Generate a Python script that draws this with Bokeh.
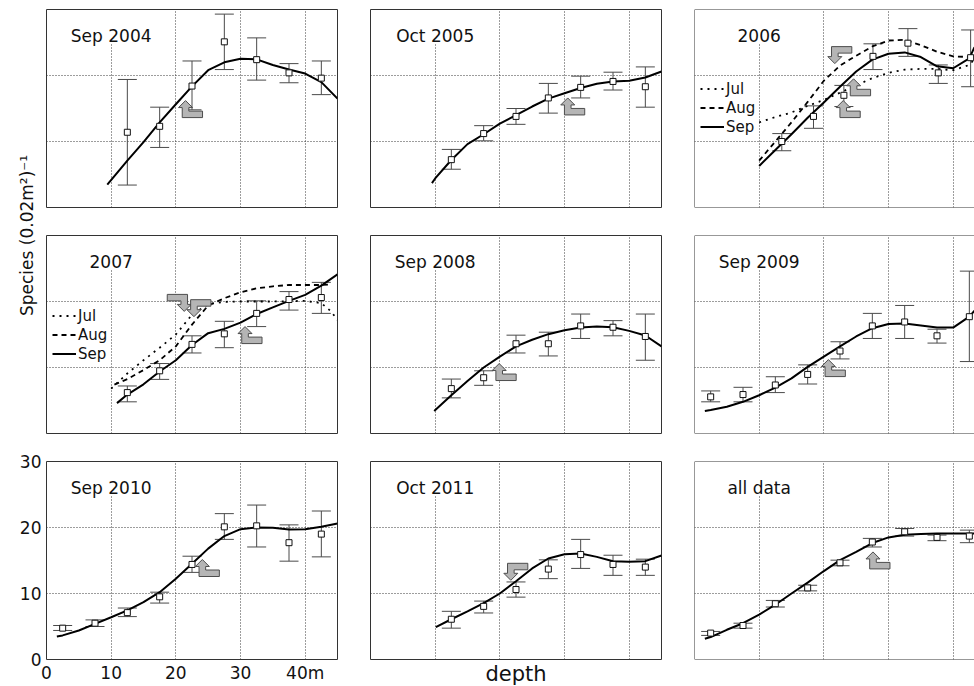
import math
from bokeh.plotting import figure
from bokeh.models import (Range1d, Label, Whisker, TeeHead, ColumnDataSource,
                          FixedTicker, Span, Grid)
from bokeh.layouts import row, column
from bokeh.embed import file_html
from bokeh.resources import INLINE

# ---------------- data ----------------
TITLES = ["Sep 2004", "Oct 2005", "2006", "2007", "Sep 2008", "Sep 2009",
          "Sep 2010", "Oct 2011", "all data"]
Y_LABEL = "Species (0.02m²)⁻¹"
X_LABEL = "depth"
X_TICKS = [0, 10, 20, 30, 40]
X_TICK_LABELS = ["0", "10", "20", "30", "40m"]
Y_TICKS = [0, 10, 20, 30]
MONTHS = ["Jul", "Aug", "Sep"]

DEPTH7 = [12.5, 17.5, 22.5, 27.5, 32.5, 37.5, 42.5]
DEPTH9 = [2.5, 7.5, 12.5, 17.5, 22.5, 27.5, 32.5, 37.5, 42.5]
DEPTH_2006 = [13.5, 18.4, 23.1, 27.6, 33.0, 37.7, 42.7]

# Sep 2004
s04_mean = [11.4, 12.3, 18.4, 25.1, 22.4, 20.4, 19.6]
s04_hi = [19.4, 15.2, 22.2, 29.3, 25.7, 21.8, 22.2]
s04_lo = [3.4, 9.1, 14.8, 20.9, 19.3, 18.9, 17.1]
s04_fit_x = [9.4, 12.5, 15, 17.5, 20, 22.5, 25, 27.5, 30, 32.5, 35, 37.5, 40, 42.5, 45]
s04_fit_y = [3.45, 7.1, 9.9, 12.9, 15.65, 18.35, 20.8, 22.0, 22.55, 22.45, 21.6, 20.9, 20.3, 19.0, 16.5]
s04_arrows = [(21.5, 16.2, "up_r")]

# Oct 2005
o05_mean = [7.25, 11.2, 13.8, 16.6, 18.2, 19.1, 18.3]
o05_hi = [8.8, 12.4, 15.0, 18.8, 19.9, 20.5, 21.3]
o05_lo = [5.8, 10.1, 12.6, 14.3, 16.6, 17.8, 15.2]
o05_fit_x = [9.5, 10, 12.5, 15, 17.5, 20, 22.5, 25, 27.5, 30, 32.5, 35, 37.5, 40, 42.5, 45]
o05_fit_y = [3.7, 4.4, 7.2, 9.6, 11.1, 12.7, 14.0, 15.3, 16.5, 17.3, 18.1, 18.75, 19.1, 19.2, 19.7, 20.6]
o05_arrows = [(30.5, 16.6, "up_r")]

# 2006
y06_mean = [10.0, 13.8, 17.0, 22.9, 24.9, 20.4, 22.7]
y06_hi = [11.2, 15.4, 18.5, 24.8, 27.1, 21.6, 26.9]
y06_lo = [8.6, 12.0, 15.3, 20.9, 22.9, 18.8, 18.3]
y06_jul_x = [10, 12.5, 15, 17.5, 20, 22.5, 25, 27.5, 30, 32.5, 35, 37.5, 40, 42.5, 43.3]
y06_jul_y = [12.9, 13.7, 14.4, 15.4, 16.3, 17.4, 18.5, 19.6, 20.4, 20.9, 21.0, 21.0, 20.8, 21.6, 22.5]
y06_aug_x = [10, 12.5, 15, 17.5, 20, 22.5, 25, 27.5, 30, 32.5, 35, 37.5, 40, 42.5, 43.3]
y06_aug_y = [7.1, 10.0, 12.9, 16.0, 19.2, 21.5, 23.0, 24.4, 25.3, 25.4, 24.6, 23.6, 22.9, 22.8, 23.2]
y06_sep_x = [10, 12.5, 15, 17.5, 20, 22.5, 25, 27.5, 30, 32.5, 35, 37.5, 40, 42.5, 43.3]
y06_sep_y = [6.3, 8.7, 11.1, 13.6, 15.9, 18.3, 20.6, 22.4, 23.3, 23.5, 22.8, 21.4, 21.1, 22.6, 24.3]
y06_arrows = [(21.7, 21.8, "down_r"), (24.6, 19.5, "up_r"), (23.0, 16.2, "up_r")]

# 2007
y07_mean = [6.2, 9.5, 13.5, 15.1, 18.2, 20.3, 20.6]
y07_hi = [7.2, 10.6, 14.8, 17.0, 20.1, 21.5, 22.9]
y07_lo = [4.8, 8.2, 12.2, 13.0, 16.2, 18.7, 18.2]
y07_jul_x = [10, 12.5, 15, 17.5, 20, 22.5, 25, 27.5, 30, 35, 40, 42.5, 44, 45]
y07_jul_y = [6.8, 9.1, 11.1, 13.0, 15.0, 18.0, 19.6, 19.95, 20.0, 20.0, 20.1, 19.75, 18.5, 17.2]
y07_aug_x = [10.5, 12.5, 15, 17.5, 20, 22.5, 25, 27.5, 30, 32.5, 35, 37.5, 40, 42.5, 44]
y07_aug_y = [7.4, 8.25, 9.6, 11.1, 13.2, 16.5, 19.4, 20.5, 21.4, 22.0, 22.3, 22.5, 22.5, 22.5, 22.6]
y07_sep_x = [10.9, 12.5, 15, 17.5, 20, 22.5, 25, 27.5, 30, 32.5, 35, 37.5, 40, 42.5, 45]
y07_sep_y = [4.6, 5.9, 7.45, 9.4, 11.1, 13.4, 15.2, 15.85, 16.8, 18.1, 19.1, 20.1, 21.0, 22.4, 24.1]
y07_arrows = [(21.3, 18.5, "down_l"), (22.8, 17.7, "down_r"), (30.7, 16.2, "up_r")]

# Sep 2008
s08_mean = [6.8, 8.45, 13.6, 13.6, 16.3, 16.1, 14.7]
s08_hi = [8.25, 9.5, 14.9, 15.35, 18.1, 17.1, 18.1]
s08_lo = [5.4, 7.3, 12.2, 11.75, 14.4, 14.8, 11.1]
s08_fit_x = [9.85, 12.5, 15, 17.5, 20, 22.5, 25, 27.5, 30, 32.5, 35, 37.5, 40, 42.5, 45]
s08_fit_y = [3.4, 5.8, 7.95, 10.0, 11.65, 13.2, 14.2, 15.05, 15.65, 16.05, 16.2, 16.1, 15.55, 14.85, 13.2]
s08_arrows = [(19.9, 10.6, "up_r")]

# Sep 2009
s09_mean = [5.55, 5.9, 7.35, 8.95, 12.5, 16.3, 16.9, 14.8, 17.7]
s09_hi = [6.45, 7.0, 8.6, 10.4, 13.9, 18.2, 19.4, 15.8, 24.6]
s09_lo = [4.8, 4.8, 6.2, 7.5, 11.3, 14.4, 14.4, 13.7, 10.9]
s09_fit_x = [1.6, 2.5, 5, 7.5, 10, 12.5, 15, 17.5, 20, 22.5, 25, 27.5, 30, 32.5, 35, 37.5, 40, 42.5, 43.3]
s09_fit_y = [3.4, 3.55, 4.05, 4.8, 5.8, 6.95, 8.35, 10.1, 11.65, 13.2, 14.7, 15.95, 16.6, 16.65, 16.35, 16.05, 16.05, 17.7, 18.6]
s09_arrows = [(20.7, 11.2, "up_r")]

# Sep 2010
s10_mean = [4.75, 5.5, 7.1, 9.5, 14.4, 20.1, 20.25, 17.7, 19.0]
s10_hi = [5.15, 6.0, 7.8, 10.2, 15.65, 22.1, 23.4, 20.4, 22.5]
s10_lo = [4.4, 5.0, 6.5, 8.55, 13.2, 18.2, 17.05, 14.9, 15.55]
s10_fit_x = [1.6, 2.5, 5, 7.5, 10, 12.5, 15, 17.5, 20, 22.5, 25, 27.5, 30, 32.5, 35, 37.5, 40, 42.5, 45]
s10_fit_y = [3.5, 3.65, 4.4, 5.4, 6.4, 7.45, 8.7, 10.2, 12.25, 14.5, 16.8, 18.7, 19.75, 20.0, 19.95, 19.7, 19.75, 20.1, 20.6]
s10_arrows = [(24.1, 15.15, "up_r")]

# Oct 2011
o11_mean = [6.1, 8.05, 10.6, 13.7, 15.9, 14.4, 14.0]
o11_hi = [7.3, 8.85, 11.75, 15.1, 18.2, 15.8, 15.2]
o11_lo = [4.75, 7.05, 9.45, 12.25, 13.8, 12.75, 12.75]
o11_fit_x = [10.1, 12.5, 15, 17.5, 20, 22.5, 25, 27.5, 30, 32.5, 35, 37.5, 40, 42.5, 45]
o11_fit_y = [4.9, 6.1, 7.3, 8.55, 10.0, 11.85, 13.8, 15.3, 15.95, 16.05, 15.55, 14.9, 14.8, 14.9, 15.75]
o11_arrows = [(21.7, 12.0, "down_r")]

# all data
all_mean = [4.0, 5.15, 8.45, 10.85, 14.65, 17.8, 19.35, 18.5, 18.7]
all_hi = [4.25, 5.5, 8.95, 11.25, 15.05, 18.35, 19.85, 18.85, 19.6]
all_lo = [3.65, 4.75, 7.95, 10.4, 14.2, 17.05, 18.7, 18.0, 17.7]
all_fit_x = [1.6, 2.5, 5, 7.5, 10, 12.5, 15, 17.5, 20, 22.5, 25, 27.5, 30, 32.5, 35, 37.5, 40, 43.3]
all_fit_y = [3.15, 3.4, 4.5, 5.5, 6.8, 8.3, 10.0, 11.65, 13.4, 15.05, 16.3, 17.65, 18.5, 18.9, 19.0, 19.1, 19.1, 19.1]
all_arrows = [(27.6, 16.3, "up_r")]

PANELS = [
    dict(depth=DEPTH7, mean=s04_mean, hi=s04_hi, lo=s04_lo, fits=[("Sep", s04_fit_x, s04_fit_y)], arrows=s04_arrows),
    dict(depth=DEPTH7, mean=o05_mean, hi=o05_hi, lo=o05_lo, fits=[("Sep", o05_fit_x, o05_fit_y)], arrows=o05_arrows),
    dict(depth=DEPTH_2006, mean=y06_mean, hi=y06_hi, lo=y06_lo,
         fits=[("Jul", y06_jul_x, y06_jul_y), ("Aug", y06_aug_x, y06_aug_y), ("Sep", y06_sep_x, y06_sep_y)],
         arrows=y06_arrows, legend=True),
    dict(depth=DEPTH7, mean=y07_mean, hi=y07_hi, lo=y07_lo,
         fits=[("Jul", y07_jul_x, y07_jul_y), ("Aug", y07_aug_x, y07_aug_y), ("Sep", y07_sep_x, y07_sep_y)],
         arrows=y07_arrows, legend=True),
    dict(depth=DEPTH7, mean=s08_mean, hi=s08_hi, lo=s08_lo, fits=[("Sep", s08_fit_x, s08_fit_y)], arrows=s08_arrows),
    dict(depth=DEPTH9, mean=s09_mean, hi=s09_hi, lo=s09_lo, fits=[("Sep", s09_fit_x, s09_fit_y)], arrows=s09_arrows),
    dict(depth=DEPTH9, mean=s10_mean, hi=s10_hi, lo=s10_lo, fits=[("Sep", s10_fit_x, s10_fit_y)], arrows=s10_arrows),
    dict(depth=DEPTH7, mean=o11_mean, hi=o11_hi, lo=o11_lo, fits=[("Sep", o11_fit_x, o11_fit_y)], arrows=o11_arrows),
    dict(depth=DEPTH9, mean=all_mean, hi=all_hi, lo=all_lo, fits=[("Sep", all_fit_x, all_fit_y)], arrows=all_arrows),
]

# ---------------- styles ----------------
FONT = "DejaVu Sans"
FRAME_W = 291
FRAME_H = 198
LAST_W = 280
EB_COLOR = "#4a4a4a"
GRID_COLOR = "#3a3a3a"
DASH = {"Jul": "2 5", "Aug": "5 4", "Sep": "solid"}
LEG_POS = {2: (6, 71), 3: (6, 70)}
# bent-arrow outline in pixels, tip at origin, y up
ARROW_PX = [(0, 0), (7, -7), (3.3, -7), (3.3, -10.5), (17, -10.5), (17, -17),
            (-3.3, -17), (-3.3, -7), (-7, -7)]


def arrow_poly(tx, ty, kind, sx, sy):
    fx = -1 if kind == "down_l" else 1
    fy = 1 if kind == "up_r" else -1
    xs = [tx + fx * dx / sx for dx, _ in ARROW_PX]
    ys = [ty + fy * dy / sy for _, dy in ARROW_PX]
    return xs, ys


def make_panel(r, c, idx):
    pan = PANELS[idx]
    fw = FRAME_W if c < 2 else LAST_W
    x_end = 45.0 * fw / FRAME_W
    left = {0: (46 if r == 2 else 0), 1: 17, 2: 17}[c]
    right = 0 if c == 2 else 16
    bottom = 27 if r == 2 else 19
    p = figure(frame_width=fw, frame_height=FRAME_H,
               x_range=Range1d(0, x_end), y_range=Range1d(0, 30),
               min_border_left=left, min_border_right=right,
               min_border_top=9, min_border_bottom=bottom,
               toolbar_location=None, output_backend="svg",
               x_axis_location="below" if (r == 2 and c < 2) else None,
               y_axis_location="left" if (r == 2 and c == 0) else None,
               outline_line_color="#333333" if c < 2 else None,
               outline_line_width=1)
    for g in p.grid:
        g.visible = False
    p.add_layout(Grid(dimension=0, ticker=FixedTicker(ticks=[10, 20, 30, 40]),
                      grid_line_color=GRID_COLOR, grid_line_dash="1 2", grid_line_width=1))
    p.add_layout(Grid(dimension=1, ticker=FixedTicker(ticks=[10, 20]),
                      grid_line_color=GRID_COLOR, grid_line_dash="1 2", grid_line_width=1))
    if c == 2:
        for loc, dim in [(0, "width"), (30, "width"), (0, "height")]:
            p.add_layout(Span(location=loc, dimension=dim, line_color="#333333", line_width=1))

    # white box behind the title, hiding the grid line
    p.quad(left=[9.2], right=[10.8], bottom=[24.8], top=[29.85],
           fill_color="white", line_color=None)

    src = ColumnDataSource(dict(base=pan["depth"], upper=pan["hi"], lower=pan["lo"]))
    p.add_layout(Whisker(source=src, base="base", upper="upper", lower="lower",
                         dimension="height", line_color=EB_COLOR, line_width=1,
                         upper_head=TeeHead(size=19, line_color=EB_COLOR, line_width=1),
                         lower_head=TeeHead(size=19, line_color=EB_COLOR, line_width=1)))

    for name, fx, fy in pan["fits"]:
        kw = {}
        if pan.get("legend"):
            kw["legend_label"] = name
        p.line(fx, fy, line_color="black", line_width=2 if name == "Sep" else 1.8,
               line_dash=DASH[name], **kw)

    p.scatter(pan["depth"], pan["mean"], marker="square", size=6,
              fill_color="white", line_color="#111111", line_width=1)

    sx = fw / x_end
    sy = FRAME_H / 30.0
    axs, ays = [], []
    for tx, ty, kind in pan["arrows"]:
        a, b = arrow_poly(tx, ty, kind, sx, sy)
        axs.append(a)
        ays.append(b)
    p.patches(axs, ays, fill_color="#b5b5b5", line_color="#4d4d4d", line_width=1)

    p.add_layout(Label(x=10, y=26.0, text=TITLES[idx], text_align="center",
                       text_baseline="alphabetic", text_font=FONT,
                       text_font_size="17px", text_color="#111111"))

    if pan.get("legend"):
        lg = p.legend[0]
        lg.location = LEG_POS[idx]
        lg.glyph_width = 24
        lg.glyph_height = 19
        lg.label_height = 19
        lg.label_standoff = 2
        lg.spacing = 0
        lg.padding = 0
        lg.margin = 0
        lg.label_text_font = FONT
        lg.label_text_font_size = "15px"
        lg.label_text_color = "#111111"
        lg.background_fill_alpha = 0
        lg.border_line_color = None

    if r == 2 and c == 0:
        p.xaxis.ticker = FixedTicker(ticks=X_TICKS)
        p.xaxis.major_label_overrides = {t: s for t, s in zip(X_TICKS, X_TICK_LABELS)}
        p.yaxis.ticker = FixedTicker(ticks=Y_TICKS)
        for ax in p.axis:
            ax.axis_line_color = None
            ax.major_tick_line_color = None
            ax.minor_tick_line_color = None
            ax.major_tick_in = 0
            ax.major_tick_out = 0
            ax.major_label_text_font = FONT
            ax.major_label_text_font_size = "17px"
            ax.major_label_text_color = "#111111"
        p.xaxis.major_label_standoff = 3
        p.yaxis.major_label_standoff = 5
    if r == 2 and c == 1:
        ax = p.xaxis[0]
        ax.ticker = FixedTicker(ticks=[])
        ax.axis_line_color = None
        ax.major_tick_line_color = None
        ax.minor_tick_line_color = None
        ax.major_tick_out = 0
        ax.major_tick_in = 0
        ax.major_label_standoff = 0
        ax.axis_label = X_LABEL
        ax.axis_label_standoff = 2
        ax.axis_label_text_font = FONT
        ax.axis_label_text_font_size = "21px"
        ax.axis_label_text_font_style = "normal"
        ax.axis_label_text_color = "#111111"
    return p


figs = [[make_panel(r, c, r * 3 + c) for c in range(3)] for r in range(3)]

lab = figure(frame_width=46, frame_height=452, x_range=Range1d(0, 46), y_range=Range1d(0, 452),
             min_border=0, toolbar_location=None, output_backend="svg",
             x_axis_location=None, y_axis_location=None, outline_line_color=None)
for g in lab.grid:
    g.visible = False
lab.add_layout(Label(x=26.5, y=217, text=Y_LABEL, angle=math.pi / 2, text_align="center",
                     text_baseline="middle", text_font=FONT, text_font_size="17px",
                     text_color="#111111"))

left_top = row(lab, column(figs[0][0], figs[1][0]))
left_col = column(left_top, figs[2][0])
col2 = column(figs[0][1], figs[1][1], figs[2][1])
col3 = column(figs[0][2], figs[1][2], figs[2][2])
root = row(left_col, col2, col3)

open("out.html", "w").write(file_html(root, INLINE))
